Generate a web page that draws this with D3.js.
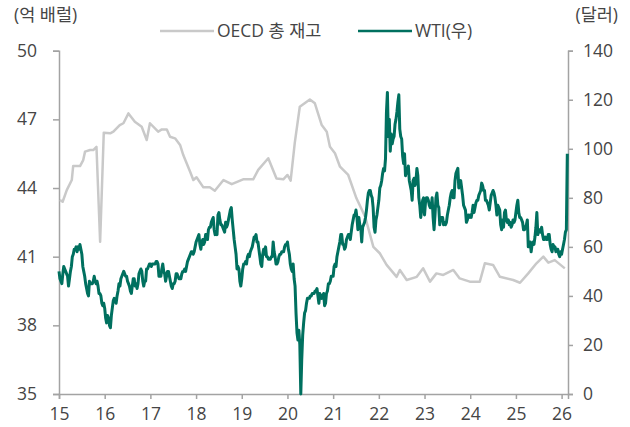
<!DOCTYPE html>
<html>
<head>
<meta charset="utf-8">
<script src="https://cdn.jsdelivr.net/npm/d3@7"></script>
<style>
    body { margin: 0; background: #fff; }
    text { font-family: "Open Sans", "Noto Sans CJK KR", sans-serif; }
</style>
</head>
<body>
<div class="chart-box"></div>
<script>
// axis ticks
const yearTicks = [2015, 2016, 2017, 2018, 2019, 2020, 2021, 2022, 2023, 2024, 2025, 2026];
const stockTicks = [35, 38, 41, 44, 47, 50];
const priceTicks = [0, 20, 40, 60, 80, 100, 120, 140];

// OECD total stocks (억 배럴), decimal year
const oecdTime = [2015.02, 2015.08, 2015.17, 2015.28, 2015.31, 2015.46, 2015.53, 2015.57, 2015.68, 2015.75,
    2015.82, 2015.90, 2015.98, 2016.12, 2016.19, 2016.33, 2016.41, 2016.52, 2016.66, 2016.81,
    2016.92, 2016.99, 2017.17, 2017.25, 2017.36, 2017.43, 2017.54, 2017.65, 2017.72, 2017.87,
    2017.94, 2018.01, 2018.16, 2018.30, 2018.41, 2018.60, 2018.78, 2019.03, 2019.25, 2019.36,
    2019.58, 2019.76, 2019.91, 2020.00, 2020.07, 2020.16, 2020.27, 2020.49, 2020.60, 2020.75,
    2020.86, 2020.93, 2021.04, 2021.15, 2021.33, 2021.51, 2021.70, 2021.88, 2022.02, 2022.17,
    2022.39, 2022.46, 2022.61, 2022.83, 2022.97, 2023.12, 2023.26, 2023.41, 2023.63, 2023.77,
    2023.99, 2024.21, 2024.32, 2024.50, 2024.65, 2024.94, 2025.09, 2025.27, 2025.45, 2025.60,
    2025.71, 2025.85, 2026.07];
const oecdStock = [43.48, 43.40, 43.91, 44.35, 44.96, 44.96, 45.22, 45.59, 45.66, 45.66,
    45.80, 41.65, 46.42, 46.39, 46.46, 46.75, 46.83, 47.26, 46.90, 46.68,
    46.10, 46.83, 46.46, 46.56, 46.56, 46.24, 46.17, 45.88, 45.44, 44.71,
    44.35, 44.47, 44.03, 44.03, 43.88, 44.35, 44.17, 44.38, 44.38, 44.79,
    45.30, 44.42, 44.38, 44.57, 44.32, 45.97, 47.55, 47.87, 47.70, 46.75,
    46.46, 45.80, 45.52, 44.93, 44.57, 43.55, 42.75, 41.43, 41.15, 40.64,
    40.12, 40.42, 39.98, 40.12, 40.49, 39.91, 40.27, 40.20, 40.42, 40.05,
    39.91, 39.91, 40.71, 40.64, 40.12, 39.98, 39.86, 40.27, 40.71, 41.00,
    40.74, 40.85, 40.49];

// WTI (달러), 4 readings a month from Jan 2015
const wtiStart = 2015;
const wtiPerYear = 48;
const wtiPrice = [
    50,47,46,45, 49,52,51,50, 49,48,44,47, 50,52,56,57, 59,59,60,58, 60,59,61,59, 57,52,50,48, 45,43,41,40, 46,45,45,45, 46,48,46,45, 46,44,41,41, 40,37,36,37,
    35,31,29,32, 31,28,27,32, 35,38,39,38, 37,40,42,45, 44,47,48,49, 50,49,48,48, 46,45,44,42, 41,44,47,47, 44,45,43,45, 49,50,51,50, 46,44,46,46, 51,51,52,53,
    53,52,53,53, 53,53,54,54, 53,48,48,48, 51,53,50,49, 46,48,50,50, 48,46,44,43, 45,45,46,49, 49,48,47,47, 47,49,50,50, 51,50,52,54, 55,56,57,58, 58,57,58,60,
    62,63,64,65, 61,59,62,63, 61,62,65,65, 63,67,68,68, 70,71,72,67, 65,66,65,73, 74,71,69,69, 68,67,66,70, 68,69,71,73, 75,76,71,67, 63,60,57,51, 52,51,46,44,
    47,51,53,53, 54,53,56,57, 56,58,59,60, 62,64,64,65, 62,62,59,56, 53,52,57,59, 57,60,56,56, 55,55,55,56, 56,62,58,56, 53,53,54,56, 57,57,58,58, 58,60,61,61,
    62,59,57,53, 51,50,53,47, 44,33,25,22, 26,20,0,14, 24,29,33,34, 37,39,39,39, 40,40,41,41, 41,42,42,43, 40,37,41,40, 39,40,41,36, 37,41,42,45, 45,46,48,48,
    48,52,53,52, 56,58,60,62, 65,65,61,61, 59,60,63,64, 65,65,63,66, 69,71,73,73, 75,72,67,72, 69,68,62,68, 69,70,72,75, 79,82,83,83, 81,80,76,68, 66,71,73,76,
    79,84,85,87, 90,92,91,96, 115,123,105,112, 99,106,102,104, 105,110,112,115, 119,122,108,105, 104,97,94,98, 89,92,90,93, 87,85,83,79, 87,88,85,87, 92,89,80,77, 72,75,79,80,
    73,78,80,80, 79,77,76,76, 80,72,67,73, 80,82,77,76, 69,72,72,72, 69,70,69,70, 73,75,77,80, 82,83,80,80, 87,90,91,92, 84,86,87,84, 81,77,76,75, 70,71,73,72,
    73,72,74,77, 74,76,78,79, 79,81,82,83, 86,85,83,83, 79,79,78,77, 75,78,81,82, 83,82,80,77, 73,77,76,75, 69,67,71,68, 74,75,71,70, 71,69,70,68, 69,71,70,71,
    74,77,79,74, 72,72,71,70, 67,67,68,69, 71,60,62,62, 58,61,62,61, 64,68,74,65, 67,67,66,68, 65,63,63,64, 63,63,65,65, 61,59,58,61, 60,60,58,59, 59,57,56,58,
    57,59,61,63, 66,67,98
];

const grayColor = "#c9c9c9";
const greenColor = "#00705f";
const axisColor = "#a3a3a3";
const textColor = "#454545";

const drawChart = () => {
    const svg = d3.select(".chart-box").append("svg")
        .attr("width", 630)
        .attr("height", 427);

    const left = 59, right = 568, top = 50.7, bottom = 394;

    const x = d3.scaleLinear().domain([2015, 2026.14]).range([left, right]);
    const yL = d3.scaleLinear().domain([35, 50]).range([bottom, top]);
    const yR = d3.scaleLinear().domain([0, 140]).range([bottom, top]);

    //axes
    const styleAxis = (g) => {
        g.selectAll("path, line").attr("stroke", axisColor).attr("stroke-width", 1.5);
        g.selectAll("text").attr("fill", textColor).attr("font-size", "17.5px");
    };

    svg.append("g")
        .attr("transform", "translate(" + left + ",0)")
        .call(d3.axisLeft(yL).tickValues(stockTicks).tickSize(6).tickPadding(16))
        .call(styleAxis);

    svg.append("g")
        .attr("transform", "translate(" + right + ",0)")
        .call(d3.axisRight(yR).tickValues(priceTicks).tickSize(5).tickPadding(10))
        .call(styleAxis);

    svg.append("g")
        .attr("transform", "translate(0," + bottom + ")")
        .call(d3.axisBottom(x).tickValues(yearTicks).tickSize(5).tickPadding(9)
            .tickFormat((d) => String(d).slice(2)))
        .call(styleAxis);

    //lines
    const oecdData = oecdTime.map((t, i) => ({ t: t, v: oecdStock[i] }));
    const wtiData = wtiPrice.map((v, i) => ({ t: wtiStart + i / wtiPerYear, v: v }));

    svg.append("path")
        .datum(oecdData)
        .attr("fill", "none")
        .attr("stroke", grayColor)
        .attr("stroke-width", 2.5)
        .attr("stroke-linejoin", "round")
        .attr("d", d3.line().x((d) => x(d.t)).y((d) => yL(d.v)));

    svg.append("path")
        .datum(wtiData)
        .attr("fill", "none")
        .attr("stroke", greenColor)
        .attr("stroke-width", 3)
        .attr("stroke-linejoin", "round")
        .attr("d", d3.line().x((d) => x(d.t)).y((d) => yR(d.v)));

    //unit labels
    svg.append("text")
        .attr("x", 14).attr("y", 21)
        .attr("fill", textColor).attr("font-size", "17.5px")
        .text("(억 배럴)");
    svg.append("text")
        .attr("x", 618).attr("y", 21)
        .attr("text-anchor", "end")
        .attr("fill", textColor).attr("font-size", "17.5px")
        .text("(달러)");

    //legend
    const legend = [
        { name: "OECD 총 재고", color: grayColor, x: 160 },
        { name: "WTI(우)", color: greenColor, x: 358 }
    ];
    const lg = svg.append("g").selectAll("g")
        .data(legend)
        .enter().append("g")
        .attr("transform", (d) => "translate(" + d.x + ",31)");
    lg.append("line")
        .attr("x1", 0).attr("x2", 54)
        .attr("stroke", (d) => d.color)
        .attr("stroke-width", 2.5);
    lg.append("text")
        .attr("x", 57).attr("y", 6)
        .attr("fill", textColor).attr("font-size", "17.5px")
        .text((d) => d.name);
};

drawChart();
</script>
</body>
</html>
